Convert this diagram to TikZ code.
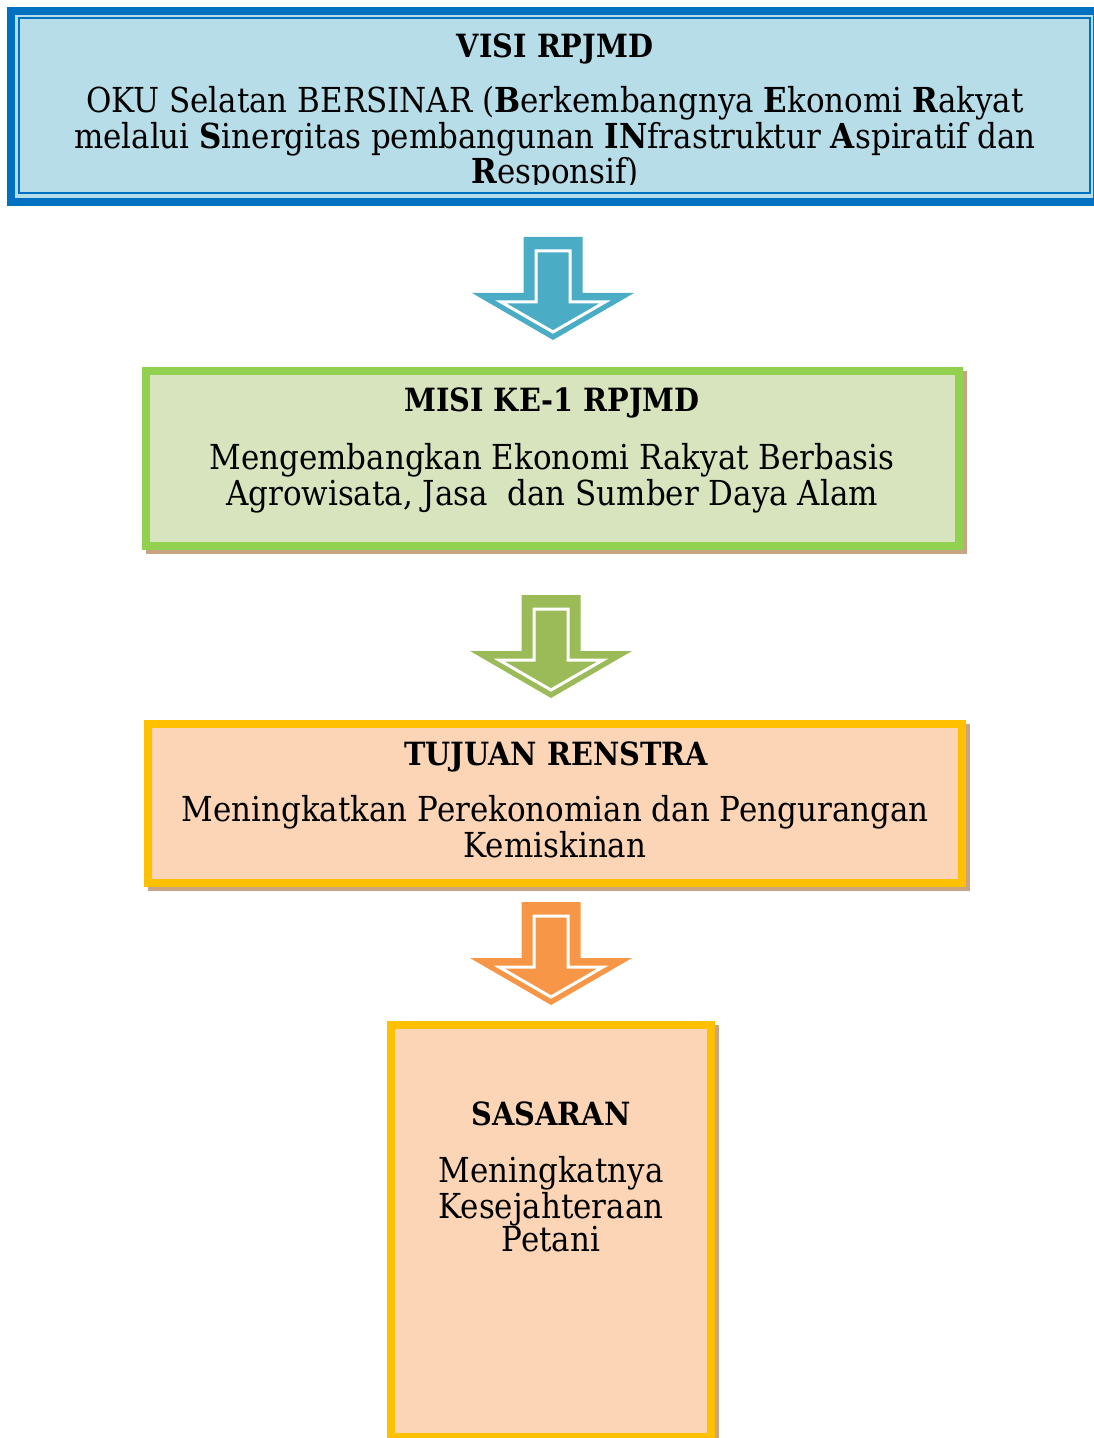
\documentclass[tikz,border=0pt]{standalone}
\usepackage{fontspec}
\setmainfont{DejaVu Serif Condensed}

\definecolor{visiband}{HTML}{0070C0}
\definecolor{visifill}{HTML}{B7DDE8}
\definecolor{misiline}{HTML}{92D050}
\definecolor{misifill}{HTML}{D7E4BD}
\definecolor{tujuanline}{HTML}{FFC000}
\definecolor{tujuanfill}{HTML}{FBD5B5}
\definecolor{boxshadow}{RGB}{201,164,130}
\definecolor{arrblue}{HTML}{4BACC6}
\definecolor{arrgreen}{HTML}{9BBB59}
\definecolor{arrorange}{HTML}{F79646}

\tikzstyle{visiout}=[draw=visiband,fill=visifill,line width=4pt,inner sep=0pt]
\tikzstyle{visiin}=[draw=visiband,line width=1pt,inner sep=0pt]
\tikzstyle{box}=[line width=4pt,inner sep=0pt,preaction={draw=boxshadow,fill=boxshadow,transform canvas={shift={(2pt,-2pt)}}}]
\tikzstyle{misibox}=[box,draw=misiline,fill=misifill]
\tikzstyle{tujuanbox}=[box,draw=tujuanline,fill=tujuanfill]
\tikzstyle{ttl}=[font=\fontsize{16}{16}\selectfont\bfseries,anchor=base,inner sep=0pt]
\tikzstyle{txt}=[font=\fontsize{17.2}{16.5}\selectfont,align=center,anchor=base,inner sep=0pt]

\begin{document}
\begin{tikzpicture}[x=0.5pt,y=-0.5pt]
  \useasboundingbox (0,0) rectangle (1093,1438);

  \node[visiout,minimum width=543pt,minimum height=95.75pt] (visi) at (554,106.75) {};
  \node[visiin,minimum width=535.5pt,minimum height=87.25pt] (visiinner) at (554,105.75) {};
  \node[ttl] (visittl) at (555,58) {VISI RPJMD};
  \begin{scope}
    \clip (20,20) rectangle (1088,185);
    \node[txt] (visitxt) at (555,184) {OKU Selatan BERSINAR (\textbf{B}erkembangnya \textbf{E}konomi \textbf{R}akyat\\
      melalui \textbf{S}inergitas pembangunan \textbf{IN}frastruktur \textbf{A}spiratif dan\\
      \textbf{R}esponsif)};
  \end{scope}

  \node[misibox,minimum width=406.5pt,minimum height=87.5pt] (misi) at (552.5,458.5) {};
  \node[ttl] (misittl) at (552,412) {MISI KE-1 RPJMD};
  \node[txt] (misitxt) at (552,505) {Mengembangkan Ekonomi Rakyat Berbasis\\
    Agrowisata, Jasa \ dan Sumber Daya Alam};

  \node[tujuanbox,minimum width=407pt,minimum height=79.5pt] (tujuan) at (555,803.5) {};
  \node[ttl] (tujuanttl) at (556,765) {TUJUAN RENSTRA};
  \node[txt] (tujuantxt) at (555,857) {Meningkatkan Perekonomian dan Pengurangan\\
    Kemiskinan};

  \node[tujuanbox,minimum width=160pt,minimum height=206pt] (sasaran) at (551,1231) {};
  \node[ttl] (sasaranttl) at (551,1125) {SASARAN};
  \node[txt] (sasarantxt) at (551,1251) {Meningkatnya\\
    Kesejahteraan\\
    Petani};

  \foreach \ax/\ay/\ac in {553/237/arrblue,551/595/arrgreen,551/902/arrorange}{
    \begin{scope}[shift={(\ax,\ay)}]
      \fill[\ac] (-29.5,0) -- (29.5,0) -- (29.5,56) -- (81,56) -- (0,103) -- (-81,56) -- (-29.5,56) -- cycle;
      \draw[white,line width=1.5pt] (-17,14) -- (17,14) -- (17,65) -- (52,65) -- (0,95) -- (-52,65) -- (-17,65) -- cycle;
    \end{scope}
  }
\end{tikzpicture}
\end{document}
